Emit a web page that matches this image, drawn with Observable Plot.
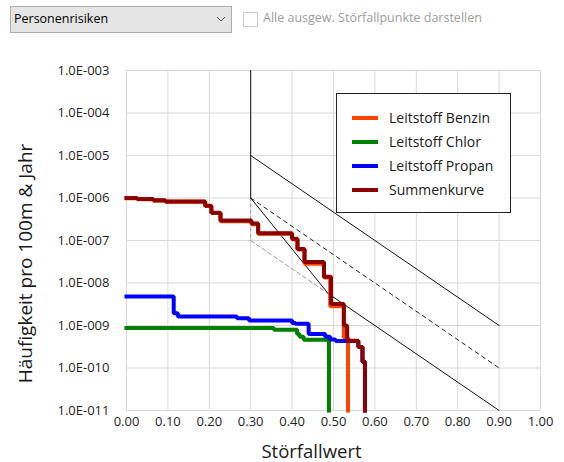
<!DOCTYPE html>
<html>
<head>
<meta charset="utf-8">
<script src="https://cdn.jsdelivr.net/npm/d3@7"></script>
<script src="https://cdn.jsdelivr.net/npm/@observablehq/plot@0.6"></script>
<style>
  html, body { margin: 0; padding: 0; background: #fff; }
  body { width: 564px; height: 462px; position: relative; overflow: hidden; font-family: "Open Sans", "Noto Sans", sans-serif; }
  #header { position: absolute; left: 0; top: 0; width: 564px; height: 50px; }
  #dropdown { position: absolute; left: 10px; top: 6px; width: 220px; height: 25px; background: #e5e5e5; border: 1px solid #adadad; }
  #dropdown span { position: absolute; left: 3px; top: 3px; font-size: 12.5px; color: #000; }
  #dropdown svg { position: absolute; left: 205px; top: 9px; }
  #check { position: absolute; left: 243px; top: 12px; width: 13px; height: 13px; border: 1px solid #cccccc; background: #fff; }
  #checklabel { position: absolute; left: 263px; top: 9px; font-size: 12.5px; color: #9d9d9d; white-space: nowrap; }
  #chart { position: absolute; left: 0; top: 50px; }
  #legend { position: absolute; left: 336px; top: 93px; width: 173px; height: 118px; background: #fff; border: 1px solid #222; }
  .row { position: absolute; left: 0; height: 20px; }
  .sw { position: absolute; left: 15px; top: 8px; width: 26px; height: 4px; }
  .lab { position: absolute; left: 52px; top: 0px; font-size: 14px; line-height: 20px; color: #1a1a1a; white-space: nowrap; }
</style>
</head>
<body>
<div id="header">
  <div id="dropdown"><span>Personenrisiken</span>
    <svg width="10" height="7"><polyline points="1,1 5,5 9,1" fill="none" stroke="#555" stroke-width="1"/></svg>
  </div>
  <div id="check"></div>
  <div id="checklabel">Alle ausgew. Störfallpunkte darstellen</div>
</div>
<div id="chart"></div>
<div id="legend"></div>
<script>
// ---- Data ----
const seriesNames = ["Leitstoff Benzin", "Leitstoff Chlor", "Leitstoff Propan", "Summenkurve"];
const seriesColors = ["#ff4500", "#008000", "#0000ff", "#8b0000"];

const benzinX = [0, 0.026, 0.065, 0.094, 0.19, 0.205, 0.227, 0.302, 0.318, 0.40, 0.413, 0.43, 0.477, 0.492, 0.525, 0.535];
const benzinY = [9.9e-7, 9.4e-7, 8.6e-7, 8.2e-7, 6.5e-7, 4.45e-7, 2.85e-7, 2.4e-7, 1.44e-7, 1.07e-7, 6.1e-8, 2.85e-8, 1.35e-8, 2.85e-9, 5.2e-10, 1e-11];

const chlorX = [0, 0.356, 0.412, 0.418, 0.428, 0.489];
const chlorY = [8.7e-10, 7.9e-10, 6.3e-10, 5.4e-10, 4.6e-10, 1e-11];

const propanX = [0, 0.114, 0.124, 0.267, 0.296, 0.40, 0.408, 0.44, 0.48, 0.492, 0.505, 0.56, 0.57, 0.576];
const propanY = [4.8e-9, 1.95e-9, 1.62e-9, 1.48e-9, 1.32e-9, 1.15e-9, 1.1e-9, 6.3e-10, 5.4e-10, 4.7e-10, 4.3e-10, 3.1e-10, 1.4e-10, 1e-11];

const summeX = [0, 0.026, 0.065, 0.094, 0.19, 0.205, 0.227, 0.302, 0.318, 0.40, 0.413, 0.43, 0.477, 0.494, 0.525, 0.533, 0.56, 0.57, 0.576];
const summeY = [1.0e-6, 9.5e-7, 8.9e-7, 8.3e-7, 6.6e-7, 4.5e-7, 2.95e-7, 2.5e-7, 1.48e-7, 1.1e-7, 6.3e-8, 3.1e-8, 1.4e-8, 3.2e-9, 1.0e-9, 4.4e-10, 3.1e-10, 1.4e-10, 1e-11];

// criteria lines
const critUpperX = [0.3, 0.9];
const critUpperY = [1e-5, 1e-9];
const critLowerX = [0.3, 0.4875, 0.9];
const critLowerY = [1e-6, 5.6e-9, 1e-11];
const critMidX = [0.3, 0.9];
const critMidY = [1e-6, 1e-10];
const critGrayX = [0.3, 0.4875];
const critGrayY = [1e-7, 5.6e-9];
const critVertX = [0.3, 0.3];
const critVertY = [1e-3, 1e-6];
const critVertGrayX = [0.3, 0.3];
const critVertGrayY = [1e-6, 1e-7];

const xTicks = [0, 0.1, 0.2, 0.3, 0.4, 0.5, 0.6, 0.7, 0.8, 0.9, 1.0];
const yTicks = [1e-11, 1e-10, 1e-9, 1e-8, 1e-7, 1e-6, 1e-5, 1e-4, 1e-3];
const xTitle = "Störfallwert";
const yTitle = "Häufigkeit pro 100m & Jahr";

const rows = (xs, ys) => xs.map((x, i) => ({x, y: ys[i]}));
const series = [
  rows(benzinX, benzinY),
  rows(chlorX, chlorY),
  rows(propanX, propanY),
  rows(summeX, summeY)
];

const yFmt = d => "1.0E-" + String(Math.round(-Math.log10(d))).padStart(3, "0");

const plot = Plot.plot({
  width: 564,
  height: 412,
  marginLeft: 126,
  marginRight: 24,
  marginTop: 20,
  marginBottom: 52,
  style: {fontFamily: "'Open Sans', 'Noto Sans', sans-serif", background: "#fff", overflow: "visible"},
  x: {domain: [0, 1]},
  y: {type: "log", domain: [1e-11, 1e-3]},
  marks: [
    Plot.gridX(xTicks, {stroke: "#d9d9d9", strokeOpacity: 1}),
    Plot.gridY(yTicks, {stroke: "#d9d9d9", strokeOpacity: 1}),
    Plot.axisX(xTicks, {tickSize: 0, tickPadding: 6, tickFormat: d => d.toFixed(2), fontSize: 13, fill: "#1e1e1e", label: null}),
    Plot.axisY(yTicks, {tickSize: 0, tickPadding: 17, tickFormat: yFmt, fontSize: 13, fill: "#1e1e1e", label: null}),
    Plot.line(rows(critVertGrayX, critVertGrayY), {x: "x", y: "y", stroke: "#9a9a9a", strokeWidth: 1, strokeDasharray: "3,3"}),
    Plot.line(rows(critGrayX, critGrayY), {x: "x", y: "y", stroke: "#9a9a9a", strokeWidth: 1, strokeDasharray: "4,3"}),
    Plot.line(rows(critMidX, critMidY), {x: "x", y: "y", stroke: "#222", strokeWidth: 1, strokeDasharray: "4,4"}),
    Plot.line(rows(critVertX, critVertY), {x: "x", y: "y", stroke: "#111", strokeWidth: 1}),
    Plot.line(rows(critUpperX, critUpperY), {x: "x", y: "y", stroke: "#111", strokeWidth: 1}),
    Plot.line(rows(critLowerX, critLowerY), {x: "x", y: "y", stroke: "#111", strokeWidth: 1}),
    ...series.map((s, i) => Plot.line(s, {x: "x", y: "y", curve: "step-after", stroke: seriesColors[i], strokeWidth: 4, strokeLinecap: "square", strokeLinejoin: "miter"})),
    Plot.text([xTitle], {frameAnchor: "bottom", textAnchor: "middle", dx: -22, dy: 42, fontSize: 18.5, fill: "#1a1a1a", lineAnchor: "middle"}),
    Plot.text([yTitle], {frameAnchor: "left", textAnchor: "middle", dx: -101, dy: 23, rotate: -90, fontSize: 19, fill: "#1a1a1a", lineAnchor: "middle"})
  ]
});
document.getElementById("chart").appendChild(plot);

// legend (HTML overlay)
const legend = document.getElementById("legend");
seriesNames.forEach((name, i) => {
  const r = document.createElement("div");
  r.className = "row";
  r.style.top = (14 + i * 24) + "px";
  r.innerHTML = `<div class="sw" style="background:${seriesColors[i]}"></div><div class="lab">${name}</div>`;
  legend.appendChild(r);
});
</script>
</body>
</html>
